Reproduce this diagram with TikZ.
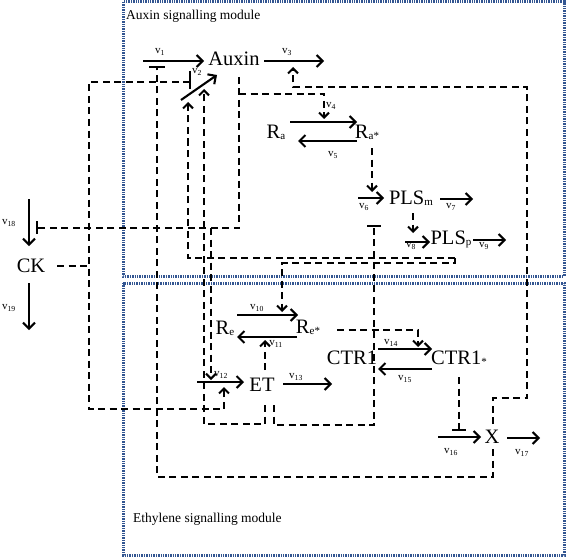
\documentclass[tikz,border=0pt]{standalone}
\usepackage{fontspec}
\setmainfont{Liberation Serif}
\usetikzlibrary{arrows.meta}
\newcommand\sbs[1]{\raisebox{-0.8pt}{\fontsize{11}{11}\selectfont #1}}
\newcommand\rl[1]{v\textsubscript{#1}}
\begin{document}
\begin{tikzpicture}[x=1pt,y=-1pt,
  sp/.style={inner sep=0pt, font=\fontsize{20.5}{24}\selectfont},
  rlab/.style={inner sep=0pt, font=\fontsize{11}{11}\selectfont},
  rx/.style={line width=2.1pt, -{Straight Barb[length=6pt,width=12pt]}},
  reg/.style={line width=2pt, dash pattern=on 7pt off 4.5pt},
  act/.style={reg, -{Straight Barb[length=5pt,width=10pt]}},
  tbar/.style={line width=2.1pt},
  module/.style={draw={rgb,255:red,50;green,85;blue,145}, line width=3pt, dash pattern=on 1.4pt off 1pt},
  modlab/.style={inner sep=0pt, anchor=west, font=\fontsize{13.5}{16}\selectfont}]
\useasboundingbox (0,0) rectangle (567,559);

% modules
\draw[module] (123,2) rectangle (564,276);
\draw[module] (123,283) rectangle (564,555);
\node[modlab] (auxlab) at (126,16) {Auxin signalling module};
\node[modlab] (ethlab) at (133,519) {Ethylene signalling module};

% species
\node[sp] (aux) at (234,59) {Auxin};
\node[sp] (ra) at (276,132) {R\sbs{a}};
\node[sp] (ras) at (367,132) {R\sbs{a*}};
\node[sp] (plsm) at (411,198) {PLS\sbs{m}};
\node[sp] (plsp) at (451,239) {PLS\sbs{p}};
\node[sp] (re) at (225,328) {R\sbs{e}};
\node[sp] (res) at (308,327) {R\sbs{e*}};
\node[sp] (et) at (262,385) {ET};
\node[sp] (ctr) at (352,358) {CTR1};
\node[sp] (ctrs) at (459,358) {CTR1\sbs{*}};
\node[sp] (x) at (492,437) {X};
\node[sp] (ck) at (31,266) {CK};

% reaction arrow end points
\coordinate (v1a) at (143,61);  \coordinate (v1b) at (204,61);
\coordinate (v2a) at (181,100); \coordinate (v2b) at (217,75);
\coordinate (v3a) at (264,61);  \coordinate (v3b) at (324,61);
\coordinate (v4a) at (290,122); \coordinate (v4b) at (357,122);
\coordinate (v5a) at (357,141); \coordinate (v5b) at (298,141);
\coordinate (v6a) at (358,198); \coordinate (v6b) at (384,198);
\coordinate (v7a) at (440,199); \coordinate (v7b) at (473,199);
\coordinate (v8a) at (405,242); \coordinate (v8b) at (430,242);
\coordinate (v9a) at (473,240); \coordinate (v9b) at (506,240);
\coordinate (v10a) at (237,315); \coordinate (v10b) at (298,315);
\coordinate (v11a) at (297,337); \coordinate (v11b) at (237,337);
\coordinate (v12a) at (197,382); \coordinate (v12b) at (244,382);
\coordinate (v13a) at (283,384); \coordinate (v13b) at (332,384);
\coordinate (v14a) at (378,349); \coordinate (v14b) at (432,349);
\coordinate (v15a) at (432,369); \coordinate (v15b) at (378,369);
\coordinate (v16a) at (438,437); \coordinate (v16b) at (481,437);
\coordinate (v17a) at (507,438); \coordinate (v17b) at (540,438);
\coordinate (v18a) at (29,199); \coordinate (v18b) at (29,246);
\coordinate (v19a) at (29,283); \coordinate (v19b) at (29,330);

\foreach \i in {1,...,19} {\draw[rx] (v\i a) -- (v\i b);}

% reaction labels
\node[rlab] (l1) at (160,52) {\rl{1}};
\node[rlab] (l2) at (197,72) {\rl{2}};
\node[rlab] (l3) at (287,52) {\rl{3}};
\node[rlab] (l4) at (331,106) {\rl{4}};
\node[rlab] (l5) at (333,155) {\rl{5}};
\node[rlab] (l6) at (364,207) {\rl{6}};
\node[rlab] (l7) at (451,207) {\rl{7}};
\node[rlab] (l8) at (411,246) {\rl{8}};
\node[rlab] (l9) at (484,246) {\rl{9}};
\node[rlab] (l10) at (257,308) {\rl{10}};
\node[rlab] (l11) at (276,344) {\rl{11}};
\node[rlab] (l12) at (221,375) {\rl{12}};
\node[rlab] (l13) at (296,377) {\rl{13}};
\node[rlab] (l14) at (391,343) {\rl{14}};
\node[rlab] (l15) at (405,379) {\rl{15}};
\node[rlab] (l16) at (451,452) {\rl{16}};
\node[rlab] (l17) at (522,453) {\rl{17}};
\node[rlab] (l18) at (9,223) {\rl{18}};
\node[rlab] (l19) at (9,308) {\rl{19}};

% regulation end points
\coordinate (xbot) at (493,449);
\coordinate (xtop) at (493,424);
\coordinate (ckr) at (57,266);
\coordinate (auxb) at (239,77);
\coordinate (plspb) at (455,258);
\coordinate (etb1) at (265,405);
\coordinate (ett) at (265,370);
\coordinate (etb2) at (274,405);
\coordinate (rasb) at (372,148);
\coordinate (plsmb) at (413,213);
\coordinate (resr) at (337,330);
\coordinate (ctrsb) at (459,377);

% X inhibits v1
\draw[reg] (xbot) -- (493,477) -- (157,477) -- (157,67);
\draw[tbar] (149,67) -- (165,67);
% X activates v3
\draw[act] (xtop) -- (493,398) -- (527,398) -- (527,87) -- (293,87) -- (293,67);
% CK inhibits v2, activates v12
\draw[reg] (ckr) -- (89,266);
\draw[act] (190,82) -- (89,82) -- (89,409) -- (224,409) -- (224,387);
\draw[tbar] (190,71) -- (190,89);
% Auxin inhibits v18, activates v4 and v12
\draw[reg] (auxb) -- (239,228) -- (37,228);
\draw[tbar] (37,221) -- (37,234);
\draw[act] (239,94) -- (324,94) -- (324,119);
\draw[act] (211,228) -- (211,380);
% PLSp activates v2 and v10
\draw[act] (plspb) -- (188,258) -- (188,102);
\draw[act] (plspb) -- (455,263) -- (282,263) -- (282,312);
% ET activates v2 and v11
\draw[act] (etb1) -- (265,424) -- (204,424) -- (204,89);
\draw[act] (ett) -- (265,340);
% ET inhibits v6
\draw[reg] (etb2) -- (274,425) -- (374,425) -- (374,226);
\draw[tbar] (367,226) -- (381,226);
% Ra* activates v6, PLSm activates v8
\draw[act] (rasb) -- (372,192);
\draw[act] (plsmb) -- (413,233);
% Re* activates v14
\draw[act] (resr) -- (418,330) -- (418,347);
% CTR1* inhibits v16
\draw[reg] (ctrsb) -- (459,430);
\draw[tbar] (452,430) -- (466,430);
\end{tikzpicture}
\end{document}
